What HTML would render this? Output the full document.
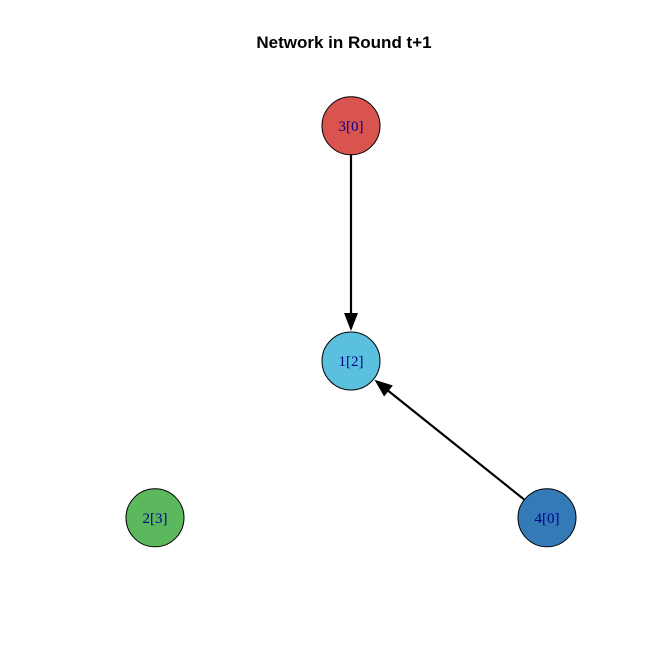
<!DOCTYPE html>
<html><head><meta charset="utf-8"><style>
html,body{margin:0;padding:0;background:#fff;}
svg{display:block;}
</style></head><body>
<svg id="chart" width="664" height="664" viewBox="0 0 664 664" xmlns="http://www.w3.org/2000/svg">
<rect width="664" height="664" fill="#fff"/>
<text x="344" y="48" text-anchor="middle" font-family="Liberation Sans, sans-serif" font-weight="bold" font-size="17" fill="#000">Network in Round t+1</text>
<g id="edges"></g>
<g id="nodes"></g>
</svg>
<script>
const nodeIds = ["1","2","3","4"];
const nodeValues = [2,3,0,0];
const nodeX = [0, -1, 0, 1];
const nodeY = [0, -0.8, 1.2, -0.8];
const nodeColors = ["#5BC0DE","#5CB85C","#D9534F","#337AB7"];
const edgeFrom = ["3","4"];
const edgeTo = ["1","1"];

const NS = "http://www.w3.org/2000/svg";
const R = 29;
function sx(v){ return 351 + v*196; }
function sy(v){ return 361 - v*196; }
const eg = document.getElementById('edges');
const ng = document.getElementById('nodes');
edgeFrom.forEach((f,i)=>{
  const a = nodeIds.indexOf(f), b = nodeIds.indexOf(edgeTo[i]);
  const x1=sx(nodeX[a]), y1=sy(nodeY[a]), x2=sx(nodeX[b]), y2=sy(nodeY[b]);
  const dx=x2-x1, dy=y2-y1, L=Math.hypot(dx,dy), ux=dx/L, uy=dy/L;
  const sx1=x1+ux*R, sy1=y1+uy*R, tx=x2-ux*(R+1), ty=y2-uy*(R+1);
  const hl=18, hw=7;
  const bx=tx-ux*hl, by=ty-uy*hl;
  const line=document.createElementNS(NS,'line');
  line.setAttribute('x1',sx1);line.setAttribute('y1',sy1);
  line.setAttribute('x2',bx+ux*2);line.setAttribute('y2',by+uy*2);
  line.setAttribute('stroke','#000');line.setAttribute('stroke-width','2.2');
  
  
  eg.appendChild(line);
  const p=document.createElementNS(NS,'polygon');
  p.setAttribute('points',`${tx},${ty} ${bx-uy*hw},${by+ux*hw} ${bx+uy*hw},${by-ux*hw}`);
  p.setAttribute('fill','#000');
  
  
  eg.appendChild(p);
});
nodeIds.forEach((id,i)=>{
  const g=document.createElementNS(NS,'g');
  
  
  const c=document.createElementNS(NS,'circle');
  c.setAttribute('cx',sx(nodeX[i]));c.setAttribute('cy',sy(nodeY[i]));c.setAttribute('r',R);
  c.setAttribute('fill',nodeColors[i]);c.setAttribute('stroke','#000');c.setAttribute('stroke-width','1');
  
  
  g.appendChild(c);
  const t=document.createElementNS(NS,'text');
  t.setAttribute('x',sx(nodeX[i]));t.setAttribute('y',sy(nodeY[i])+5);
  t.setAttribute('text-anchor','middle');t.setAttribute('font-family','Liberation Serif, serif');
  t.setAttribute('font-size','15');t.setAttribute('fill','#00008B');
  t.textContent=id+'['+nodeValues[i]+']';
  
  
  g.appendChild(t);
  ng.appendChild(g);
});
</script>
</body></html>
